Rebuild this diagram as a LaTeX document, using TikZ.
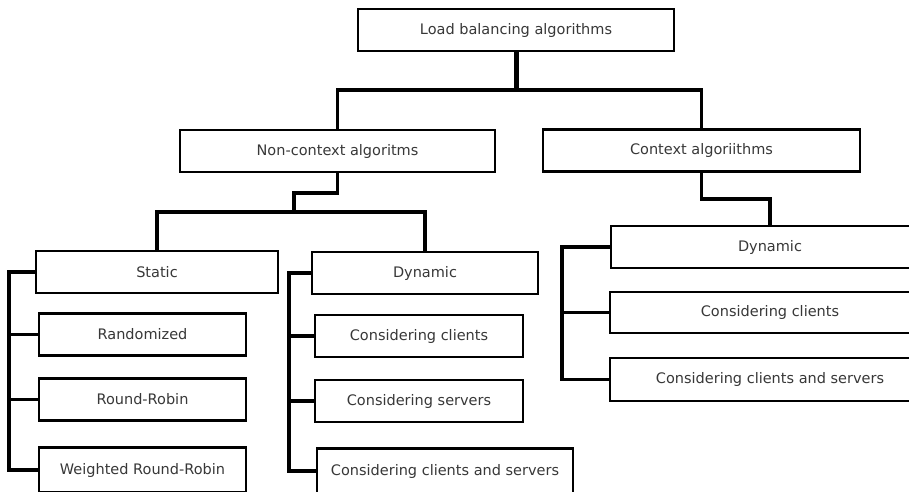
\documentclass[tikz,border=0pt]{standalone}
\usepackage{fontspec}
\setmainfont{DejaVu Sans}
\begin{document}
\begin{tikzpicture}[x=1pt,y=-1pt,
  box/.style={draw=black,line width=2.8pt,fill=white,inner sep=0pt,
    text=black!78,font=\fontsize{14.5}{17}\selectfont,
    minimum width=#1,minimum height=42pt},
  box/.default=240pt,
  link/.style={draw=black,line width=3.2pt,line cap=butt,line join=miter},
  trunk/.style={draw=black,line width=5pt}]
\useasboundingbox (0,0) rectangle (909,491);
\clip (0,0) rectangle (909,491);
\fill[white] (0,0) rectangle (909,491);

% top level
\node[box=316pt] (root) at (516,30) {Load balancing algorithms};
\node[box=315pt] (nonctx) at (337.5,151) {Non-context algoritms};
\node[box=317pt] (ctx) at (701.5,150.5) {Context algoriithms};

% non-context branch
\node[box=242pt] (static) at (157,272) {Static};
\node[box=207pt] (rand) at (142.5,334.5) {Randomized};
\node[box=207pt] (rr) at (142.5,399.5) {Round-Robin};
\node[box=207pt,minimum height=45pt] (wrr) at (142.5,470) {Weighted Round-Robin};

\node[box=226pt] (dyn1) at (425,273) {Dynamic};
\node[box=208pt] (cc1) at (419,336) {Considering clients};
\node[box=208pt] (cs1) at (419,401) {Considering servers};
\node[box=256pt,minimum height=45pt] (ccs1) at (445,471) {Considering clients and servers};

% context branch
\node[box=318pt] (dyn2) at (770,247) {Dynamic};
\node[box=320pt,minimum height=41pt] (cc2) at (770,312.5) {Considering clients};
\node[box=320pt,minimum height=43pt] (ccs2) at (770,379.5) {Considering clients and servers};

% junction points of the connectors
\coordinate (j0) at (0,90);
\coordinate (j1) at (294,193);
\coordinate (j2) at (294,212);
\coordinate (j3) at (0,199);
\coordinate (sp1) at (9,0);
\coordinate (sp2) at (289,0);
\coordinate (sp3) at (562,0);

% root to first level
\draw[trunk] (root.south) -- (root.south |- j0);
\draw[link] (nonctx.north) -- (nonctx.north |- j0) -| (ctx.north);

% non-context to static / dynamic
\draw[link] (nonctx.south) |- (j1) -- (j2);
\draw[link] (static.north) -- (static.north |- j2) -- (dyn1.north |- j2) -- (dyn1.north);

% context to dynamic
\draw[link] (ctx.south) -- (ctx.south |- j3) -| (dyn2.north);

% static children
\draw[link] (static.west) -- (static.west -| sp1) |- (wrr.west);
\draw[link] (rand.west) -- (rand.west -| sp1);
\draw[link] (rr.west) -- (rr.west -| sp1);

% dynamic children (non-context)
\draw[link] (dyn1.west) -- (dyn1.west -| sp2) |- (ccs1.west);
\draw[link] (cc1.west) -- (cc1.west -| sp2);
\draw[link] (cs1.west) -- (cs1.west -| sp2);

% dynamic children (context)
\draw[link] (dyn2.west) -- (dyn2.west -| sp3) |- (ccs2.west);
\draw[link] (cc2.west) -- (cc2.west -| sp3);
\end{tikzpicture}
\end{document}
